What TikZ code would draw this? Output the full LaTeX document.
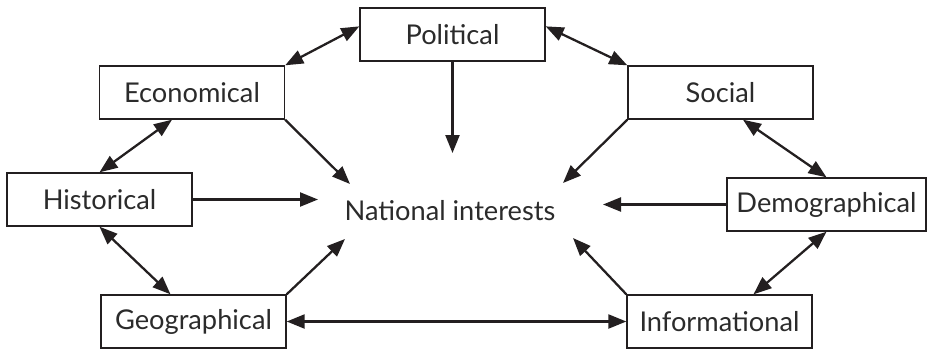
\documentclass[tikz,border=0pt]{standalone}
\usepackage{fontspec}
\setmainfont{Lato}
\usepackage{tikz}
\usetikzlibrary{arrows.meta,positioning,calc}
\usepackage{xcolor}
\definecolor{niInk}{HTML}{231F20}
\definecolor{niText}{HTML}{2B2B2B}
\tikzset{
  arr/.style={-{Triangle[length=3.6mm,width=2.8mm]}, line width=1.3pt, draw=niInk, fill=niInk},
  arrb/.style={{Triangle[length=3.6mm,width=2.8mm]}-{Triangle[length=3.6mm,width=2.8mm]}, line width=1.3pt, draw=niInk, fill=niInk},
  factor/.style={rectangle, draw=niInk, line width=0.8pt, fill=white, minimum width=3.7cm, minimum height=1.06cm, inner sep=2pt, font=\fontsize{15.5}{17}\selectfont\color{niText}},
  core/.style={inner sep=0pt, font=\fontsize{15.5}{17}\selectfont\color{niText}}
}
\begin{document}
\begin{tikzpicture}[x=0.02cm,y=-0.02cm]
  \useasboundingbox (0,0) rectangle (927,349);
  % factor boxes
  \node[factor] (pol) at (452.5,34.5) {Political};
  \node[factor] (eco) at (192,92.5) {Economical};
  \node[factor] (soc) at (720.5,92.5) {Social};
  \node[factor] (his) at (99.5,199.5) {Historical};
  \node[factor, minimum width=3.98cm] (dem) at (826.5,204.5) {Demographical};
  \node[factor] (geo) at (193.5,321.5) {Geographical};
  \node[factor] (inf) at (719.5,321.5) {Informational};
  % centre
  \node[core] (ni) at (450,211) {National interests};
  \coordinate (niN) at (452.5,153);
  \coordinate (niNW) at (350,184);
  \coordinate (niNE) at (563,183);
  \coordinate (niW) at (318,199.5);
  \coordinate (niE) at (603,204.5);
  \coordinate (niSW) at (345,239);
  \coordinate (niSE) at (573,238);
  % influences on the centre
  \draw[arr] (pol.south) -- (niN);
  \draw[arr] (eco.south east) -- (niNW);
  \draw[arr] (soc.south west) -- (niNE);
  \draw[arr] (his.east) -- (niW);
  \draw[arr] (dem.west) -- (niE);
  \draw[arr] (geo.north east) -- (niSW);
  \draw[arr] (inf.north west) -- (niSE);
  % links between factors
  \draw[arrb] (eco.north east) -- (pol.175);
  \draw[arrb] (pol.5) -- (soc.north west);
  \draw[arrb] ([xshift=-0.4cm]eco.south) -- (his.north);
  \draw[arrb] ([xshift=0.45cm]soc.south) -- (dem.north);
  \draw[arrb] (his.south) -- ([xshift=-0.46cm]geo.north);
  \draw[arrb] ([xshift=0.68cm]inf.north) -- (dem.south);
  \draw[arrb] (geo.east) -- (inf.west);
\end{tikzpicture}
\end{document}
